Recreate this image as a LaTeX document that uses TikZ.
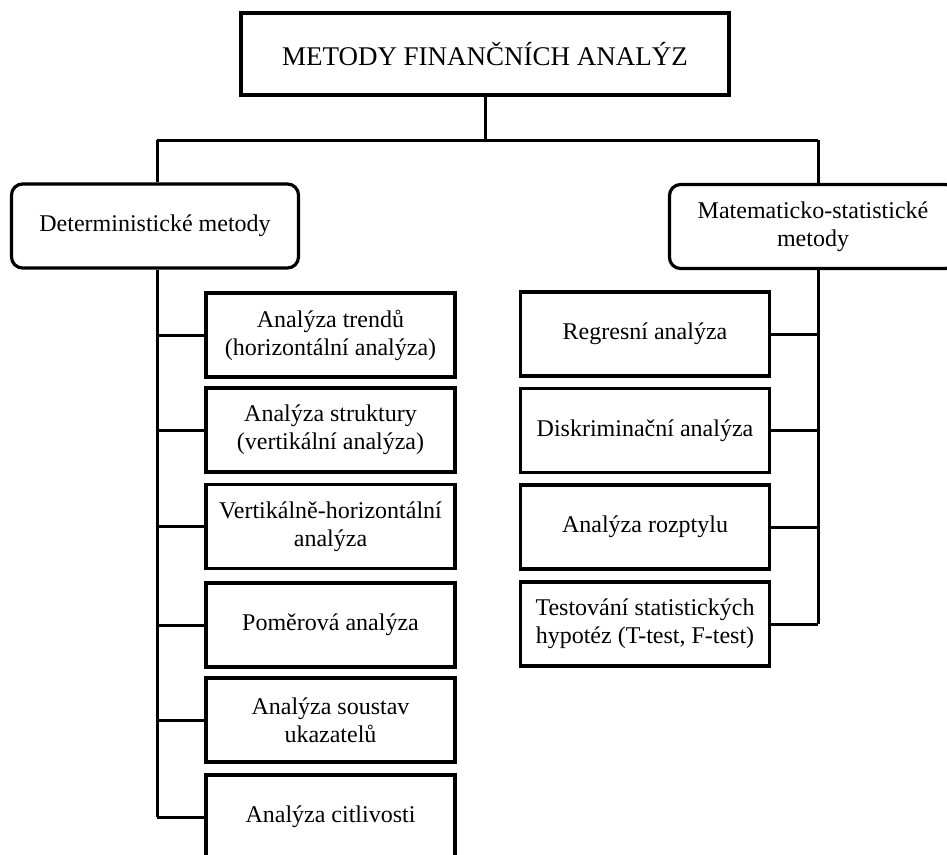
\documentclass[tikz,border=0pt]{standalone}
\usepackage{fontspec}
\setmainfont{Liberation Serif}
\begin{document}
\begin{tikzpicture}[x=1pt,y=-1pt,
  conn/.style={draw, line width=3pt},
  box/.style={draw, line width=3.2pt, minimum width=249pt, minimum height=84pt, inner sep=0pt, align=center, font=\fontsize{24}{28}\selectfont},
  catbox/.style={box, rounded corners=11pt, minimum width=287pt},
  titlebox/.style={box, minimum width=488pt, minimum height=82pt, font=\fontsize{27}{31}\selectfont}]
\useasboundingbox (0,0) rectangle (947,854);
\clip (0,0) rectangle (947,854);
\node[titlebox] (top) at (485,54) {METODY FINANČNÍCH ANALÝZ};
\node[catbox] (det) at (155,226) {Deterministické metody};
\node[catbox] (mat) at (813,226.5) {Matematicko-statistické\\metody};
\coordinate (jL) at (157,140);
\coordinate (jR) at (818,140);
\node[box] (d1) at (330.5,335) {Analýza trendů\\(horizontální analýza)};
\node[box] (d2) at (330.5,430) {Analýza struktury\\(vertikální analýza)};
\node[box] (d3) at (330.5,526.5) {Vertikálně-horizontální\\analýza};
\node[box] (d4) at (330.5,625) {Poměrová analýza};
\node[box] (d5) at (330.5,720) {Analýza soustav\\ukazatelů};
\node[box] (d6) at (330.5,817) {Analýza citlivosti};
\node[box] (m1) at (645,334) {Regresní analýza};
\node[box] (m2) at (645,430.5) {Diskriminační analýza};
\node[box] (m3) at (645,527) {Analýza rozptylu};
\node[box] (m4) at (645,624) {Testování statistických\\hypotéz (T-test, F-test)};
\draw[conn] (top.south) -- (top.south |- jL);
\draw[conn] (jL) -- (jR);
\draw[conn] (jL) -- (jL |- det.north);
\draw[conn] (jR) -- (jR |- mat.north);
\draw[conn] (jL |- det.south) -- (jL |- d6.west);
\draw[conn] (jR |- mat.south) -- (jR |- m4.east);
\foreach \n in {d1,d2,d3,d4,d5,d6}{\draw[conn] (jL |- \n.west) -- (\n.west);}
\foreach \n in {m1,m2,m3,m4}{\draw[conn] (\n.east) -- (jR |- \n.east);}
\end{tikzpicture}
\end{document}
